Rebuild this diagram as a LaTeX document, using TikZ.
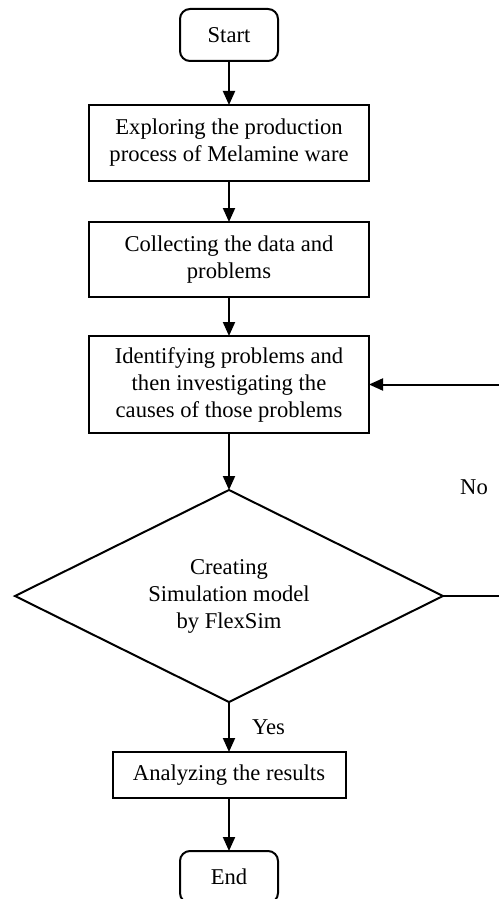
\documentclass[tikz,border=0pt]{standalone}
\usepackage{fontspec}
\setmainfont{Liberation Serif}
\usetikzlibrary{arrows.meta,positioning,shapes.geometric}
\tikzset{
terminal/.style={draw,rounded corners=5pt,line width=1pt,minimum width=49pt,minimum height=26pt,outer sep=0pt,align=center},
process/.style={draw,line width=1pt,minimum width=140pt,outer sep=0pt,align=center},
decision/.style={draw,diamond,aspect=2,line width=1pt,minimum width=214pt,minimum height=106pt,inner sep=0pt,outer sep=0pt,align=center},
flow/.style={-{Triangle[length=7pt,width=6pt]},line width=1pt},
tag/.style={inner sep=1pt}
}

\begin{document}
\begin{tikzpicture}[node distance=20pt,font=\fontsize{11.3}{13.5}\selectfont]
\useasboundingbox (0,0) rectangle (249pt,-449.5pt);
\node[terminal](start) at (114.5pt,-17.5pt){Start};
\node[process,minimum height=38pt,below=22pt of start](explore){Exploring the production\\process of Melamine ware};
\node[process,minimum height=37.5pt,below=20.5pt of explore](collect){Collecting the data and\\problems};
\node[process,minimum height=48.5pt,below=19.5pt of collect](identify){Identifying problems and\\then investigating the\\causes of those problems};
\node[decision,below=28.5pt of identify](sim){Creating\\Simulation model\\by FlexSim};
\node[process,minimum width=116.5pt,minimum height=23pt,below=25pt of sim](analyze){Analyzing the results};
\node[terminal,below=26.5pt of analyze](end){End};
\coordinate (loop) at (250pt,0);
\node[tag](no) at (237pt,-243.5pt){No};
\draw[flow](start)--(explore);\draw[flow](explore)--(collect);\draw[flow](collect)--(identify);
\draw[flow](identify)--(sim);
\draw[flow](sim)--node[tag,right=10pt]{Yes}(analyze);
\draw[flow](analyze)--(end);
\draw[flow](sim.east)--(sim.east-|loop)|-(identify.east);
\end{tikzpicture}
\end{document}
